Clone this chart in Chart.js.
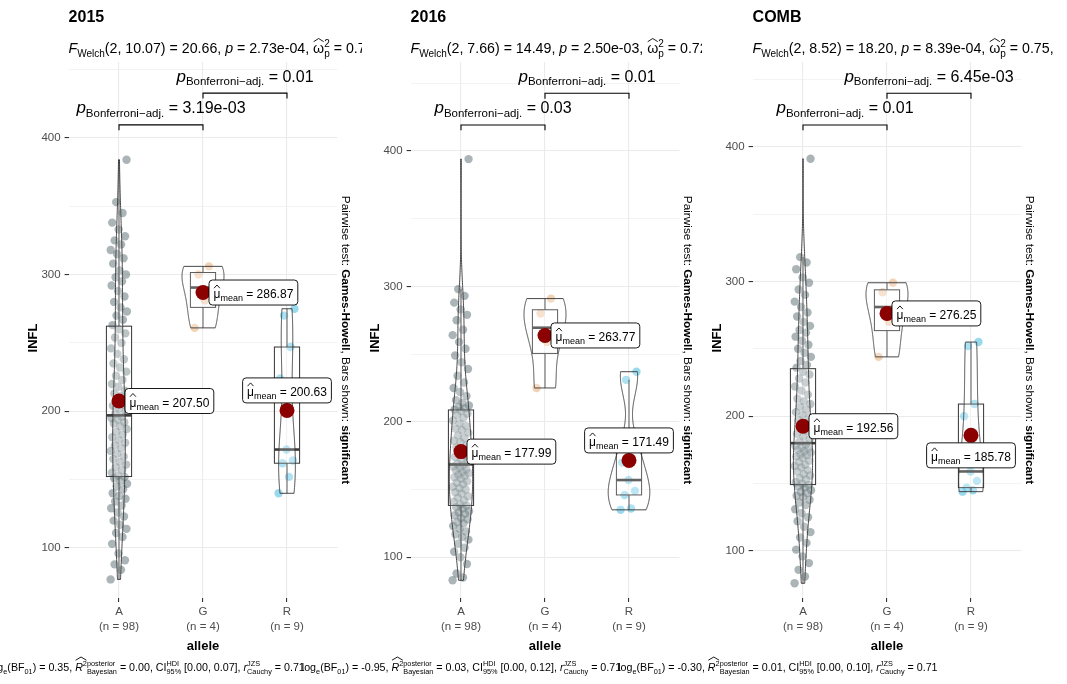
<!DOCTYPE html>
<html>
<head>
<meta charset="utf-8">
<script src="https://cdn.jsdelivr.net/npm/chart.js@4.4.1/dist/chart.umd.min.js"></script>
<style>
  html, body { margin: 0; padding: 0; background: #ffffff; }
  #wrap { position: relative; width: 1067px; height: 684px; overflow: hidden; background: #ffffff; }
  #wrap canvas { position: absolute; left: 0; top: 0; }
</style>
</head>
<body>
<div id="wrap">
  <canvas id="p0" width="1067" height="684"></canvas>
  <canvas id="p1" width="1067" height="684"></canvas>
  <canvas id="p2" width="1067" height="684"></canvas>
</div>
<script>
// ---------- data ----------
const categories = ['A', 'G', 'R'];
const groupSizes = [98, 4, 9];
const panelTitles = ['2015', '2016', 'COMB'];

const infl2015A = [77, 84, 88, 91, 96, 103, 108, 111, 114, 117, 120, 123, 126, 129, 131, 134, 136, 138, 140, 143, 145, 147, 149, 151,
  152, 153, 155, 157, 159, 161, 163, 165, 167, 169, 171, 173, 175, 177, 179, 181, 183, 185, 187, 189, 191, 192, 194, 195, 196,
  198, 200, 202, 204, 205, 207, 209, 211, 213, 215, 218, 220, 223, 226, 229, 232, 235, 238, 242, 246, 250, 254, 257, 260,
  263, 267, 270, 273, 276, 280, 284, 288, 292, 295, 298, 300, 303, 308, 312, 315, 318, 322, 325, 328, 333, 338, 345, 353, 384];
const infl2015G = [261, 281, 300, 306];
const infl2015R = [140, 152, 162, 164, 172, 224, 247, 270, 275];

const infl2016A = [83, 85, 88, 95, 100, 104, 107, 110, 113, 115, 117, 119, 121, 123, 125, 126, 128, 129, 131, 132, 133, 134, 136, 137,
  138, 139, 141, 142, 144, 145, 147, 148, 150, 151, 152, 154, 155, 156, 158, 159, 160, 161, 162, 163, 164, 165, 166, 167, 168,
  169, 171, 172, 174, 175, 177, 178, 180, 181, 183, 185, 186, 188, 190, 192, 194, 195, 197, 199, 201, 203, 205, 206, 208,
  209, 210, 211, 212, 214, 216, 219, 222, 225, 229, 234, 239, 244, 249, 254, 259, 264, 268, 275, 279, 283, 288, 293, 298, 394];
const infl2016G = [225, 259, 280, 291];
const infl2016R = [135, 136, 146, 149, 157, 170, 182, 231, 237];

const inflCombA = [76, 81, 86, 91, 96, 101, 106, 110, 114, 118, 122, 125, 128, 131, 134, 136, 138, 140, 141, 143, 144, 145, 147, 148,
  149, 150, 151, 153, 154, 156, 157, 159, 160, 162, 163, 164, 166, 167, 169, 170, 171, 172, 173, 174, 175, 176, 177, 178, 179,
  181, 183, 185, 187, 189, 191, 193, 195, 197, 199, 201, 203, 205, 207, 209, 211, 213, 216, 219, 222, 225, 228, 231, 233,
  236, 238, 241, 244, 247, 250, 253, 256, 259, 262, 264, 267, 270, 274, 277, 281, 285, 290, 294, 299, 303, 309, 314, 318, 391];
const inflCombG = [244, 270, 292, 299];
const inflCombR = [144, 145, 147, 152, 159, 200, 209, 252, 255];

const means2015 = [207.50, 286.87, 200.63];
const means2016 = [177.99, 263.77, 171.49];
const meansComb = [192.56, 276.25, 185.78];

const welchDf = ['10.07', '7.66', '8.52'];
const welchF = ['20.66', '14.49', '18.20'];
const welchP = ['2.73e-04', '2.50e-03', '8.39e-04'];
const omegaSq = ['0.76', '0.72', '0.75'];

const pAdjAG = ['3.19e-03', '0.03', '0.01'];
const pAdjGR = ['0.01', '0.01', '6.45e-03'];

const logBF01 = ['0.35', '-0.95', '-0.30'];
const r2Bayes = ['0.00', '0.03', '0.01'];
const hdiUpper = ['0.07', '0.12', '0.10'];
const rCauchy = ['0.71', '0.71', '0.71'];

const groupsByPanel = [
  [infl2015A, infl2015G, infl2015R],
  [infl2016A, infl2016G, infl2016R],
  [inflCombA, inflCombG, inflCombR]
];
const meansByPanel = [means2015, means2016, meansComb];

// ---------- layout & style ----------
const FONT = '"Liberation Sans", Arial, Helvetica, sans-serif';
const W = 1067, H = 684;
const PANEL_TOP = 62, PANEL_BOTTOM = 598;
const panelLeft = [68.6, 410.6, 752.6];
const PANEL_W = 268.8;
const Y_AXIS_W = 45, X_AXIS_H = 45;
const yLimits = [[63.4, 455.5], [69.9, 465.7], [65.1, 462.8]];
const bracketLevels = [[409.5, 432.7], [419.2, 442.6], [416.1, 439.6]];
const subtitleClip = [362, 702, 1067];
const labelPlacement = [
  [{ a: 'left', dx: 6, dy: 0 }, { a: 'left', dx: 6, dy: 0 }, { a: 'center', dx: 0, dy: -20 }],
  [{ a: 'left', dx: 6, dy: 0 }, { a: 'left', dx: 6, dy: 0 }, { a: 'center', dx: 0, dy: -20 }],
  [{ a: 'left', dx: 6, dy: 0 }, { a: 'left', dx: 5, dy: 0 }, { a: 'center', dx: 0, dy: 20 }]
];
const pointColors = ['rgba(55,78,85,0.42)', 'rgba(223,143,68,0.4)', 'rgba(0,161,213,0.4)'];
const MEAN_COLOR = '#8B0000';
const LINE_COLOR = '#333333';
const CAPTION_BASE = 671;
const CAPTION_START = -11;

// ---------- statistics helpers ----------
function q7(sorted, p) {
  const h = (sorted.length - 1) * p;
  const lo = Math.floor(h);
  const hi = Math.min(lo + 1, sorted.length - 1);
  return sorted[lo] + (h - lo) * (sorted[hi] - sorted[lo]);
}
function sdev(a) {
  const m = a.reduce((s, v) => s + v, 0) / a.length;
  return Math.sqrt(a.reduce((s, v) => s + (v - m) * (v - m), 0) / (a.length - 1));
}
function bwNrd0(a) {
  const s = [...a].sort((x, y) => x - y);
  const hi = sdev(a);
  let lo = Math.min(hi, (q7(s, 0.75) - q7(s, 0.25)) / 1.34);
  if (!(lo > 0)) lo = hi || Math.abs(s[0]) || 1;
  return 0.9 * lo * Math.pow(a.length, -0.2);
}
function density(a, bw, y) {
  let t = 0;
  for (const v of a) { const z = (y - v) / bw; t += Math.exp(-0.5 * z * z); }
  return t / (a.length * bw * Math.sqrt(2 * Math.PI));
}
function violinProfile(a) {
  const s = [...a].sort((x, y) => x - y);
  const bw = bwNrd0(a);
  const lo = s[0], hi = s[s.length - 1];
  const out = [];
  for (let i = 0; i <= 256; i++) {
    const y = lo + (hi - lo) * i / 256;
    out.push({ y, d: density(a, bw, y) });
  }
  return out;
}
function boxStats(a) {
  const s = [...a].sort((x, y) => x - y);
  const q1 = q7(s, 0.25), med = q7(s, 0.5), q3 = q7(s, 0.75);
  const iqr = q3 - q1;
  const lowW = s.find(v => v >= q1 - 1.5 * iqr);
  const upW = [...s].reverse().find(v => v <= q3 + 1.5 * iqr);
  return { q1, med, q3, lowW, upW };
}

// ---------- rich text ----------
function setFont(ctx, s) {
  ctx.font = (s.it ? 'italic ' : '') + (s.b ? 'bold ' : '') + s.f + 'px ' + FONT;
}
function segWidth(ctx, s) {
  setFont(ctx, s);
  if (s.stack) return Math.max(...s.stack.map(t => ctx.measureText(t).width)) + (s.pad || 0);
  return ctx.measureText(s.t).width + (s.pad || 0);
}
function drawHat(ctx, x0, x1, yTop) {
  ctx.save();
  ctx.beginPath();
  ctx.moveTo(x0 + 0.5, yTop + 3.2);
  ctx.lineTo((x0 + x1) / 2, yTop);
  ctx.lineTo(x1 - 0.5, yTop + 3.2);
  ctx.lineWidth = 0.9;
  ctx.strokeStyle = ctx.fillStyle;
  ctx.stroke();
  ctx.restore();
}
function richWidth(ctx, segs) {
  return segs.reduce((t, s) => t + segWidth(ctx, s), 0);
}
function drawRich(ctx, segs, x, y, align) {
  const w = segs.map(s => segWidth(ctx, s));
  const total = w.reduce((a, b) => a + b, 0);
  let cx = align === 'center' ? x - total / 2 : align === 'right' ? x - total : x;
  ctx.textAlign = 'left';
  ctx.textBaseline = 'alphabetic';
  segs.forEach((s, i) => {
    setFont(ctx, s);
    if (s.stack) {
      ctx.fillText(s.stack[0], cx, y + s.dy[0]);
      ctx.fillText(s.stack[1], cx, y + s.dy[1]);
    } else {
      ctx.fillText(s.t, cx, y + (s.dy || 0));
    }
    if (s.hat) {
      let hw = 0;
      for (let k = i; k < i + (s.hatSpan || 1); k++) hw += w[k];
      drawHat(ctx, cx, cx + hw, y + s.hat);
    }
    cx += w[i];
  });
  return total;
}

function subtitleSegs(k) {
  const M = 14.2, S = 10;
  return [
    { t: 'F', f: M, it: 1 }, { t: 'Welch', f: S, dy: 3.5 },
    { t: '(2, ' + welchDf[k] + ') = ' + welchF[k] + ', ', f: M },
    { t: 'p', f: M, it: 1 }, { t: ' = ' + welchP[k] + ', ', f: M },
    { t: '\u03C9', f: M, hat: -14.5 }, { stack: ['2', 'p'], f: S, dy: [-6.5, 4] },
    { t: ' = ' + omegaSq[k] + ', ', f: M }
  ];
}
function captionSegs(k) {
  const M = 10.7, S = 7.3;
  return [
    { t: 'log', f: M }, { t: 'e', f: S, dy: 2.5 }, { t: '(BF', f: M }, { t: '01', f: S, dy: 2.5 },
    { t: ') = ' + logBF01[k] + ', ', f: M },
    { t: 'R', f: M, it: 1, hat: -14, hatSpan: 2 }, { t: '2', f: S, dy: -5 },
    { stack: ['posterior', 'Bayesian'], f: S, dy: [-5, 3] },
    { t: ' = ' + r2Bayes[k] + ', CI', f: M },
    { stack: ['HDI', '95%'], f: S, dy: [-5, 3] },
    { t: ' [0.00, ' + hdiUpper[k] + '], ', f: M },
    { t: 'r', f: M, it: 1 }, { stack: ['JZS', 'Cauchy'], f: S, dy: [-5, 3] },
    { t: ' = ' + rCauchy[k], f: M }
  ];
}
function pLabelSegs(v) {
  return [{ t: 'p', f: 17, it: 1 }, { t: 'Bonferroni\u2212adj.', f: 11.5, dy: 3.5 }, { t: ' = ' + v, f: 16 }];
}
function meanLabelSegs(v) {
  return [{ t: '\u03BC', f: 12, hat: -13 }, { t: 'mean', f: 9, dy: 3 }, { t: ' = ' + v.toFixed(2), f: 12 }];
}
const pairwiseSegs = [
  { t: 'Pairwise test: ', f: 11.8 }, { t: 'Games-Howell', f: 11.8, b: 1 },
  { t: ', Bars shown: ', f: 11.8 }, { t: 'significant', f: 11.8, b: 1 }
];

// caption start positions: each caption follows the previous one
const captionLeft = (function () {
  const c = document.createElement('canvas').getContext('2d');
  const out = [CAPTION_START];
  for (let k = 1; k < 3; k++) out.push(out[k - 1] + richWidth(c, captionSegs(k - 1)) - 3);
  return out;
})();

// ---------- per-panel plugin ----------
function panelPlugin(k) {
  const groups = groupsByPanel[k];
  const profiles = groups.map(violinProfile);
  const dMax = Math.max(...profiles.map(p => Math.max(...p.map(q => q.d))));
  const boxes = groups.map(boxStats);
  return {
    id: 'panelDecor' + k,
    afterDatasetDraw(chart, args) {
      if (args.index !== 1) return;
      const ctx = chart.ctx, xs = chart.scales.x, ys = chart.scales.y;
      ctx.save();
      groups.forEach((g, gi) => {
        const c = gi + 1;
        // box
        const b = boxes[gi];
        const bl = xs.getPixelForValue(c - 0.15), br = xs.getPixelForValue(c + 0.15), cx = xs.getPixelForValue(c);
        ctx.strokeStyle = LINE_COLOR;
        ctx.lineWidth = 1;
        ctx.beginPath();
        ctx.moveTo(cx, ys.getPixelForValue(b.q3)); ctx.lineTo(cx, ys.getPixelForValue(b.upW));
        ctx.moveTo(cx, ys.getPixelForValue(b.q1)); ctx.lineTo(cx, ys.getPixelForValue(b.lowW));
        ctx.stroke();
        ctx.fillStyle = 'rgba(255,255,255,0.2)';
        const yt = ys.getPixelForValue(b.q3), yb = ys.getPixelForValue(b.q1);
        ctx.fillRect(bl, yt, br - bl, yb - yt);
        ctx.strokeRect(bl, yt, br - bl, yb - yt);
        ctx.lineWidth = 2.6;
        ctx.strokeStyle = '#3c3c3c';
        ctx.beginPath();
        ctx.moveTo(bl, ys.getPixelForValue(b.med)); ctx.lineTo(br, ys.getPixelForValue(b.med));
        ctx.stroke();
        // violin
        const prof = profiles[gi];
        ctx.beginPath();
        prof.forEach((p, i) => {
          const x = xs.getPixelForValue(c - 0.25 * p.d / dMax), y = ys.getPixelForValue(p.y);
          if (i) ctx.lineTo(x, y); else ctx.moveTo(x, y);
        });
        for (let i = prof.length - 1; i >= 0; i--) {
          const p = prof[i];
          ctx.lineTo(xs.getPixelForValue(c + 0.25 * p.d / dMax), ys.getPixelForValue(p.y));
        }
        ctx.closePath();
        ctx.fillStyle = 'rgba(255,255,255,0.2)';
        ctx.fill();
        ctx.strokeStyle = LINE_COLOR;
        ctx.lineWidth = 0.9;
        ctx.stroke();
      });
      ctx.restore();
    },
    afterDraw(chart) {
      const ctx = chart.ctx, xs = chart.scales.x, ys = chart.scales.y, area = chart.chartArea;
      ctx.save();
      ctx.fillStyle = '#000';
      // mean labels
      meansByPanel[k].forEach((m, gi) => {
        const px = xs.getPixelForValue(gi + 1), py = ys.getPixelForValue(m);
        const segs = meanLabelSegs(m);
        const tw = richWidth(ctx, segs);
        const bw = tw + 9, bh = 25;
        const pl = labelPlacement[k][gi];
        const left = pl.a === 'left' ? px + pl.dx : px + pl.dx - bw / 2;
        const cy = py + pl.dy;
        ctx.beginPath();
        ctx.roundRect(left, cy - bh / 2, bw, bh, 3.5);
        ctx.fillStyle = '#ffffff';
        ctx.fill();
        ctx.lineWidth = 0.9;
        ctx.strokeStyle = '#000';
        ctx.stroke();
        ctx.fillStyle = '#000';
        drawRich(ctx, segs, left + 4.5, cy + 5.5, 'left');
      });
      // significance brackets
      const tip = 0.01 * (ys.max - ys.min);
      [[1, 2, bracketLevels[k][0], pAdjAG[k]], [2, 3, bracketLevels[k][1], pAdjGR[k]]].forEach(([a, b, lvl, lab]) => {
        const x0 = xs.getPixelForValue(a), x1 = xs.getPixelForValue(b);
        const y = ys.getPixelForValue(lvl), yTip = ys.getPixelForValue(lvl - tip);
        ctx.beginPath();
        ctx.moveTo(x0, yTip); ctx.lineTo(x0, y); ctx.lineTo(x1, y); ctx.lineTo(x1, yTip);
        ctx.strokeStyle = '#000';
        ctx.lineWidth = 1.1;
        ctx.stroke();
        drawRich(ctx, pLabelSegs(lab), (x0 + x1) / 2, y - 11.5, 'center');
      });
      // title and subtitle
      ctx.font = 'bold 16px ' + FONT;
      ctx.textAlign = 'left';
      ctx.textBaseline = 'alphabetic';
      ctx.fillText(panelTitles[k], area.left, 22);
      ctx.save();
      ctx.beginPath();
      ctx.rect(0, 30, subtitleClip[k], 30);
      ctx.clip();
      drawRich(ctx, subtitleSegs(k), area.left, 53, 'left');
      ctx.restore();
      // axis titles
      ctx.font = 'bold 13px ' + FONT;
      ctx.textAlign = 'center';
      ctx.textBaseline = 'middle';
      ctx.fillText('allele', (area.left + area.right) / 2, 646);
      ctx.save();
      ctx.translate(area.left - 35.5, 338);
      ctx.rotate(-Math.PI / 2);
      ctx.fillText('INFL', 0, 0);
      ctx.restore();
      // pairwise note
      ctx.save();
      ctx.translate(area.right + 5, 340);
      ctx.rotate(Math.PI / 2);
      drawRich(ctx, pairwiseSegs, 0, 0, 'center');
      ctx.restore();
      // caption
      drawRich(ctx, captionSegs(k), captionLeft[k], CAPTION_BASE, 'left');
      ctx.restore();
    }
  };
}

// jitter spread across each category (deterministic low-discrepancy offsets)
function jitterOffset(i) {
  return ((i * 0.6180339887) % 1 - 0.5) * 0.2;
}

function buildChart(k) {
  const obs = [], obsColors = [];
  groupsByPanel[k].forEach((g, gi) => {
    g.forEach((v, i) => {
      obs.push({ x: gi + 1 + jitterOffset(i), y: v });
      obsColors.push(pointColors[gi]);
    });
  });
  const meanPts = meansByPanel[k].map((m, gi) => ({ x: gi + 1, y: m }));
  const left = panelLeft[k] - Y_AXIS_W, right = W - (panelLeft[k] + PANEL_W);
  return new Chart(document.getElementById('p' + k), {
    type: 'scatter',
    data: {
      datasets: [
        { label: 'mean', data: meanPts, order: 0, pointRadius: 7.5, pointBackgroundColor: MEAN_COLOR, pointBorderWidth: 0, clip: false },
        { label: 'INFL', data: obs, order: 1, pointRadius: 4.2, pointBackgroundColor: obsColors, pointBorderWidth: 0 }
      ]
    },
    options: {
      responsive: false,
      animation: false,
      devicePixelRatio: 1,
      events: [],
      layout: { padding: { left: left, right: right, top: PANEL_TOP, bottom: H - PANEL_BOTTOM - X_AXIS_H } },
      plugins: { legend: { display: false }, tooltip: { enabled: false }, title: { display: false } },
      scales: {
        x: {
          type: 'linear', min: 0.4, max: 3.6,
          afterBuildTicks: (s) => { s.ticks = [1, 2, 3].map(v => ({ value: v })); },
          afterFit: (s) => { s.height = X_AXIS_H; },
          ticks: {
            autoSkip: false, maxRotation: 0, minRotation: 0, padding: 2,
            color: '#4D4D4D', font: { family: FONT, size: 11.5, lineHeight: 1.3 },
            callback: (v) => [categories[v - 1], '(n = ' + groupSizes[v - 1] + ')']
          },
          grid: { color: '#EBEBEB', lineWidth: 1.1, tickColor: '#333333', tickLength: 4, drawTicks: true },
          border: { display: false }
        },
        y: {
          type: 'linear', min: yLimits[k][0], max: yLimits[k][1],
          afterBuildTicks: (s) => { s.ticks = [100, 150, 200, 250, 300, 350, 400, 450].map(v => ({ value: v })); },
          afterFit: (s) => { s.width = Y_AXIS_W; },
          ticks: {
            padding: 4, color: '#4D4D4D', font: { family: FONT, size: 11.5 },
            callback: (v) => (v % 100 === 0 ? String(v) : '')
          },
          grid: {
            color: '#EBEBEB',
            lineWidth: (c) => (c.tick && c.tick.value % 100 === 0 ? 1.1 : 0.6),
            tickColor: (c) => (c.tick && c.tick.value % 100 === 0 ? '#333333' : 'rgba(0,0,0,0)'),
            tickLength: 4, drawTicks: true
          },
          border: { display: false }
        }
      }
    },
    plugins: [panelPlugin(k)]
  });
}

[0, 1, 2].forEach(buildChart);
</script>
</body>
</html>
